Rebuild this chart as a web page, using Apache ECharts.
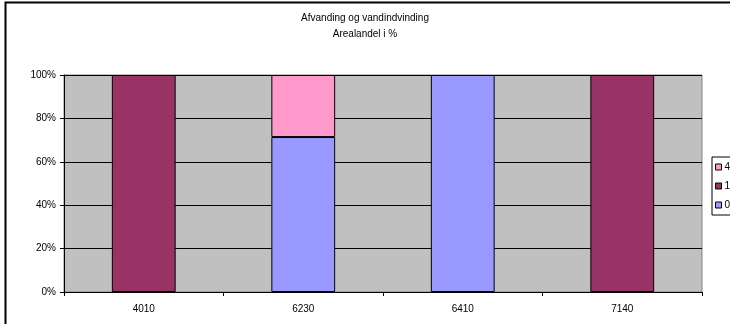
<!DOCTYPE html>
<html>
<head>
<meta charset="utf-8">
<script src="https://cdn.jsdelivr.net/npm/echarts@6/dist/echarts.min.js"></script>
<style>
  html, body { margin: 0; padding: 0; background: #ffffff; }
  #chart { width: 730px; height: 324px; }
</style>
</head>
<body>
<div id="chart"></div>
<script>
// Habitat codes along the x axis
const categories = ['4010', '6230', '6410', '7140'];

// Share of area per class (percent), stacked to 100%
const share0 = [null, 71.4, 100, null];
const share1 = [100, null, null, 100];
const share4 = [null, 28.6, null, null];

const yTicks = [0, 20, 40, 60, 80, 100];

const FONT = 'Liberation Sans, Arial, sans-serif';

const chart = echarts.init(document.getElementById('chart'), null, { renderer: 'canvas' });

function barSeries(name, data, color) {
  return {
    name: name,
    type: 'bar',
    stack: 'share',
    data: data,
    barWidth: '40%',
    itemStyle: { color: color, borderColor: '#000000', borderWidth: 1 },
    emphasis: { disabled: true }
  };
}

chart.setOption({
  animation: false,
  backgroundColor: '#ffffff',
  textStyle: { fontFamily: FONT },
  graphic: [{
    type: 'rect',
    shape: { x: 5.5, y: 2.5, width: 740, height: 340 },
    style: { fill: 'none', stroke: '#000000', lineWidth: 2 },
    silent: true
  }],
  title: {
    text: 'Afvanding og vandindvinding\nArealandel i %',
    left: 'center',
    top: 5,
    textStyle: { fontFamily: FONT, fontSize: 10, fontWeight: 'normal', color: '#000000', lineHeight: 16 }
  },
  legend: {
    data: ['4', '1', '0'],
    orient: 'vertical',
    left: 712,
    top: 157,
    padding: [5, 12, 5, 3],
    itemGap: 9,
    itemWidth: 6,
    itemHeight: 6,
    icon: 'rect',
    borderColor: '#000000',
    borderWidth: 1,
    backgroundColor: '#ffffff',
    itemStyle: { borderColor: '#000000', borderWidth: 1 },
    textStyle: { fontFamily: FONT, fontSize: 10, color: '#000000', padding: [0, 0, 0, -2] }
  },
  grid: {
    left: 64,
    right: 28,
    top: 75,
    bottom: 32,
    show: true,
    backgroundColor: '#C0C0C0',
    borderColor: '#808080',
    borderWidth: 1
  },
  xAxis: {
    type: 'category',
    data: categories,
    axisLine: { lineStyle: { color: '#000000', width: 1 } },
    axisTick: { show: true, alignWithLabel: false, length: 4, lineStyle: { color: '#000000' } },
    axisLabel: { fontFamily: FONT, fontSize: 10, color: '#000000', margin: 12 }
  },
  yAxis: {
    type: 'value',
    min: yTicks[0],
    max: yTicks[yTicks.length - 1],
    interval: yTicks[1] - yTicks[0],
    axisLine: { show: true, lineStyle: { color: '#000000', width: 1 } },
    axisTick: { show: true, length: 4, lineStyle: { color: '#000000' } },
    axisLabel: { fontFamily: FONT, fontSize: 10, color: '#000000', margin: 8, formatter: '{value}%' },
    splitLine: { show: true, lineStyle: { color: '#000000', width: 1 } }
  },
  series: [
    barSeries('0', share0, '#9999FF'),
    barSeries('1', share1, '#993366'),
    barSeries('4', share4, '#FF99CC')
  ]
});
</script>
</body>
</html>
